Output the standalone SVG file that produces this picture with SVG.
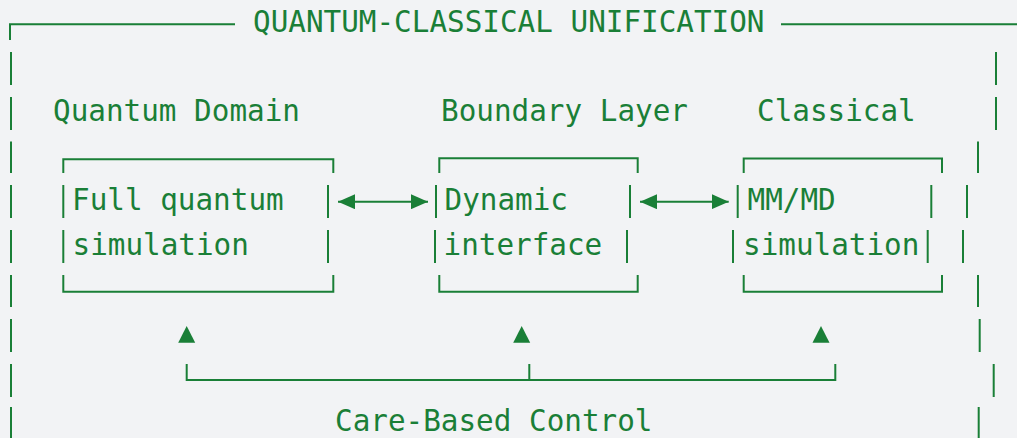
<svg xmlns="http://www.w3.org/2000/svg" width="1017" height="438" viewBox="0 0 1017 438">
<style>
.t{font-family:"DejaVu Sans Mono","Liberation Mono",monospace;font-size:29.3px;fill:#1a7f37}
.ln{fill:none;stroke:#1a7f37;stroke-width:2;stroke-linecap:butt}
.hd{fill:#1a7f37}
</style>
<defs>
<marker id="ah" viewBox="0 0 17 15" refX="17" refY="7.5" markerWidth="17" markerHeight="15" markerUnits="userSpaceOnUse" orient="auto-start-reverse">
<path d="M0,0 L17,7.5 L0,15 Z" class="hd"/>
</marker>
</defs>
<rect width="1017" height="438" fill="#f2f3f5"/>
<g id="frame">
<path class="ln" d="M10,40 V24.3 H235 M781,24.3 H1017"/>
<text class="t" x="253" y="32">QUANTUM-CLASSICAL UNIFICATION</text>
<path class="ln" d="M11,52 V85 M11,97 V130 M11,141.5 V173 M11,185 V218 M11,230 V263 M11,275 V307 M11,319 V352 M11,364 V397 M11,407 V438"/>
<path class="ln" d="M996,52 V85 M996,97 V130 M978,141.5 V173 M967,185 V218 M963,230 V263 M978,275 V307 M979.7,319 V352 M993.7,364 V397 M978.7,407 V438"/>
</g>
<g id="quantum">
<text class="t" x="53" y="121">Quantum Domain</text>
<path class="ln" d="M63.3,173 V159.3 H333.3 V173 M63.3,185 V218 M63.3,230 V263 M328,185 V218 M328,230 V263 M63.3,275 V291.7 H333.3 V275"/>
<text class="t" x="72" y="210">Full quantum</text>
<text class="t" x="72.5" y="255">simulation</text>
</g>
<g id="boundary">
<text class="t" x="441" y="121">Boundary Layer</text>
<path class="ln" d="M439.3,173 V158.3 H637.7 V173 M436,185 V218 M435,230 V263 M630,185 V218 M627,230 V263 M439.3,275 V291.7 H637.7 V275"/>
<text class="t" x="444.5" y="210">Dynamic</text>
<text class="t" x="443.5" y="255">interface</text>
</g>
<g id="classical">
<text class="t" x="757" y="121">Classical</text>
<path class="ln" d="M743.7,173 V158.5 H942 V173 M737.7,185 V218 M733,230 V263 M931.3,185 V218 M927.7,230 V263 M743.7,275 V291.7 H942 V275"/>
<text class="t" x="747.5" y="210">MM/MD</text>
<text class="t" x="743" y="255">simulation</text>
</g>
<g id="control">
<text class="t" x="335" y="431">Care-Based Control</text>
</g>
<g id="connectors">
<line class="ln" x1="338" y1="201.7" x2="428" y2="201.7" marker-start="url(#ah)" marker-end="url(#ah)"/>
<line class="ln" x1="640" y1="201.7" x2="728.7" y2="201.7" marker-start="url(#ah)" marker-end="url(#ah)"/>
<polygon class="hd" points="178.2,342.7 186.7,326 195.2,342.7"/>
<polygon class="hd" points="513.2,342.7 521.7,326 530.2,342.7"/>
<polygon class="hd" points="812.5,342.7 821,326 829.5,342.7"/>
<path class="ln" d="M186.7,364 V380 H835.3 V364 M529.3,364 V380"/>
</g>
</svg>
